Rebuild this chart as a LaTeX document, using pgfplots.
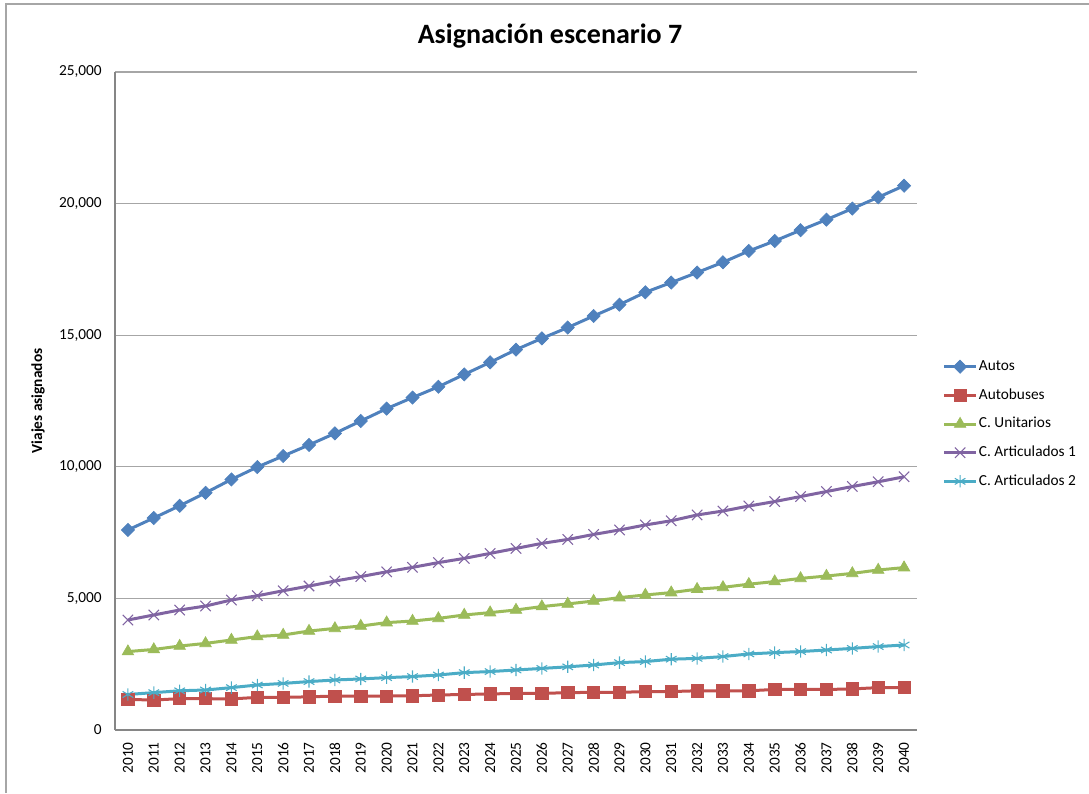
\documentclass[border=0pt]{standalone}
\usepackage{pgfplots}
\pgfplotsset{compat=1.18}
\usepackage{fontspec}
\setmainfont{Carlito}
\definecolor{autos}{HTML}{4F81BD}
\definecolor{buses}{HTML}{C0504D}
\definecolor{unit}{HTML}{9BBB59}
\definecolor{art1}{HTML}{8064A2}
\definecolor{art2}{HTML}{4BACC6}
\definecolor{axgray}{HTML}{868686}
\definecolor{grgray}{HTML}{A6A6A6}

\pgfplotstableread{
year autos buses unit art1 art2
2010 7600 1160 2980 4180 1350
2011 8055 1140 3060 4370 1420
2012 8520 1190 3190 4560 1490
2013 9010 1190 3290 4710 1520
2014 9520 1180 3420 4940 1610
2015 9990 1240 3550 5100 1710
2016 10410 1240 3610 5290 1770
2017 10830 1260 3760 5470 1840
2018 11270 1290 3860 5660 1900
2019 11740 1290 3950 5830 1940
2020 12210 1290 4080 6010 1990
2021 12630 1300 4140 6180 2030
2022 13040 1330 4240 6360 2090
2023 13510 1350 4370 6520 2180
2024 13970 1370 4460 6710 2220
2025 14450 1390 4560 6900 2280
2026 14880 1390 4690 7090 2340
2027 15290 1420 4790 7240 2400
2028 15730 1430 4900 7430 2470
2029 16160 1430 5030 7600 2560
2030 16630 1460 5130 7790 2600
2031 17000 1460 5220 7950 2690
2032 17380 1490 5350 8170 2720
2033 17770 1490 5420 8320 2790
2034 18200 1490 5540 8510 2890
2035 18580 1540 5640 8680 2940
2036 18990 1540 5760 8870 2980
2037 19390 1540 5850 9060 3040
2038 19810 1560 5950 9250 3100
2039 20240 1610 6080 9430 3170
2040 20680 1610 6170 9620 3230
}\datatable

\begin{document}
\begin{tikzpicture}
\useasboundingbox (-86.25pt,-47.25pt) rectangle (730.5pt,547.5pt);
\draw[grgray, line width=1.1pt] (-81.75pt,-47.25pt) -- (-81.75pt,544.5pt) -- (730.5pt,544.5pt);
\begin{axis}[
  at={(0,0)}, anchor=south west,
  scale only axis,
  width=601.5pt, height=493.5pt,
  xmin=2009.5, xmax=2040.5,
  ymin=0, ymax=25000,
  xtick={2010,2011,...,2040},
  ytick={0,5000,...,25000},
  scaled y ticks=false,
  axis x line*=bottom, axis y line*=left,
  axis line style={axgray, line width=1.1pt, -},
  major tick length=0pt,
  ymajorgrids,
  grid style={grgray, line width=0.8pt},
  tick label style={font=\fontsize{11.5}{13}\selectfont, /pgf/number format/assume math mode=true},
  xticklabel style={rotate=90, anchor=east, inner sep=0pt, /pgf/number format/1000 sep={}},
  yticklabel style={anchor=east, inner sep=0pt, /pgf/number format/1000 sep={,}},
  xticklabel shift=9pt,
  yticklabel shift=9.75pt,
  ylabel={Viajes asignados},
  ylabel style={at={(axis description cs:-0.096,0.5)}, anchor=center, font=\bfseries\fontsize{11.5}{13}\selectfont},
  title={Asignación escenario 7},
  title style={at={(axis description cs:0.5424,1)}, anchor=base, yshift=15pt, font=\bfseries\fontsize{21}{25}\selectfont},
  legend style={at={(1,0.465)}, anchor=west, xshift=19pt, draw=none, fill=none, inner sep=0pt,
    row sep=9pt, font=\fontsize{11.5}{13}\selectfont,
    nodes={inner sep=1pt, text height=8pt, text depth=2.5pt}},
  legend cell align=left,
  legend image code/.code={\draw[mark repeat=2, mark phase=2, #1] plot coordinates {(0pt,0pt) (12pt,0pt) (24pt,0pt)};},
  every axis plot/.append style={line width=2.25pt},
  clip=false,
]
\addplot[autos, mark=square*, mark size=3.5pt, mark options={rotate=45, line width=0.5pt}] table[x=year, y=autos] {\datatable};
\addlegendentry{Autos}
\addplot[buses, mark=square*, mark size=4.6pt, mark options={line width=0.5pt}] table[x=year, y=buses] {\datatable};
\addlegendentry{Autobuses}
\addplot[unit, mark=triangle*, mark size=5pt, mark options={line width=0.5pt}] table[x=year, y=unit] {\datatable};
\addlegendentry{C. Unitarios}
\addplot[art1, mark=x, mark size=5.5pt, mark options={line width=0.8pt}] table[x=year, y=art1] {\datatable};
\addlegendentry{C. Articulados 1}
\addplot[art2, mark=asterisk, mark size=4.6pt, mark options={line width=0.8pt}] table[x=year, y=art2] {\datatable};
\addlegendentry{C. Articulados 2}
\end{axis}
\end{tikzpicture}
\end{document}
